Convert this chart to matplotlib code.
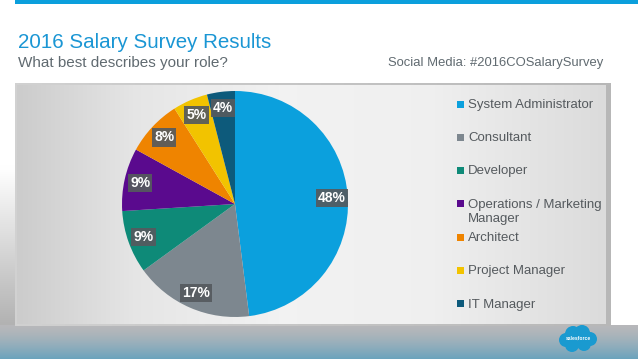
import numpy as np
import matplotlib.pyplot as plt
from matplotlib.patches import Rectangle, Circle

plt.rcParams['font.family'] = ['Liberation Sans', 'DejaVu Sans']

# data
roles = ['System Administrator', 'Consultant', 'Developer',
         'Operations / Marketing\nManager', 'Architect', 'Project Manager', 'IT Manager']
shares = [48, 17, 9, 9, 8, 5, 4]
colors = ['#0ba0dd', '#7d878f', '#0e8a78', '#5a0a8e', '#ef8400', '#f2c300', '#0d5a7b']

title = '2016 Salary Survey Results'
subtitle = 'What best describes your role?'
social = 'Social Media: #2016COSalarySurvey'

W, H = 638, 359
fig = plt.figure(figsize=(W / 100, H / 100), dpi=100)
fig.patch.set_facecolor('white')

# background layer in pixel coords
bg = fig.add_axes([0, 0, 1, 1], zorder=0)
bg.set_xlim(0, W)
bg.set_ylim(H, 0)
bg.axis('off')

# bottom band gradient
ys = np.linspace(0, 1, 60)[:, None]
top_c = np.array([0.72, 0.72, 0.73])
bot_c = np.array([0.42, 0.64, 0.74])
band = top_c + (bot_c - top_c) * ys ** 1.4
band = np.repeat(band[:, None, :], 2, axis=1)
bg.imshow(band, extent=(0, W, H, 325), aspect='auto', interpolation='bilinear', zorder=0)

# left strip gradient (white -> grey)
ys2 = np.linspace(0, 1, 60)[:, None]
strip = 1.0 - 0.30 * np.clip((ys2 - 0.35) / 0.65, 0, 1)
strip = np.repeat(np.repeat(strip[:, :, None], 3, axis=2), 2, axis=1)
bg.imshow(strip, extent=(0, 15, 325, 82), aspect='auto', interpolation='bilinear', zorder=0)

# panel frame
xs = np.linspace(0, 1, 200)
frame = 0.82 - 0.10 * xs
frame = np.repeat(np.repeat(frame[None, :, None], 3, axis=2), 2, axis=0)
bg.imshow(frame, extent=(15, 611, 326, 83), aspect='auto', interpolation='bilinear', zorder=1)

# panel inner gradient
prof_x = [0.0, 0.2, 0.45, 0.7, 0.85, 1.0]
prof_v = [0.80, 0.90, 0.95, 0.94, 0.90, 0.86]
inner = np.interp(xs, prof_x, prof_v)
inner = np.repeat(np.repeat(inner[None, :, None], 3, axis=2), 2, axis=0)
bg.imshow(inner, extent=(17, 606, 324, 85), aspect='auto', interpolation='bilinear', zorder=2)

# top blue bar
bg.add_patch(Rectangle((15, 0), W - 15, 4, color='#0b9fdc', lw=0, zorder=3))

# salesforce cloud
for cx, cy, r in [(566, 340, 7), (573, 334, 8), (582, 333, 8), (590, 339, 7),
                  (584, 344, 7), (572, 345, 7)]:
    bg.add_patch(Circle((cx, cy), r, color='#1a9ad0', lw=0, zorder=3))
bg.text(578, 339, 'salesforce', color='white', fontsize=3.6, fontweight='bold',
        ha='center', va='center', zorder=4)

# titles
fig.text(18 / W, 1 - 43 / H, title, color='#1a96d4', fontsize=14.8, va='center', ha='left')
fig.text(18 / W, 1 - 63 / H, subtitle, color='#606a70', fontsize=11, va='center', ha='left')
fig.text(603 / W, 1 - 63 / H, social, color='#606a70', fontsize=9.4, va='center', ha='right')

# pie
cx, cy, rad = 235, 204, 113
ax = fig.add_axes([(cx - rad) / W, (H - cy - rad) / H, 2 * rad / W, 2 * rad / H], zorder=2)
ax.set_facecolor('none')
wedges, texts, autotexts = ax.pie(
    shares, colors=colors, startangle=90, counterclock=False,
    autopct='%d%%', pctdistance=0.86, radius=1,
    wedgeprops=dict(linewidth=0),
    textprops=dict(color='white', fontsize=10, fontweight='bold'))
for t in autotexts:
    t.set_bbox(dict(boxstyle='square,pad=0.15', fc='#555a5e', ec='none', alpha=0.92))
ax.set_xlim(-1, 1)
ax.set_ylim(-1, 1)
ax.set_aspect('equal')
ax.axis('off')

# legend drawn by hand
leg_y0, leg_dy, line_h = 104, 33.3, 14
for i, (lab, col) in enumerate(zip(roles, colors)):
    y = leg_y0 + i * leg_dy
    bg.add_patch(Rectangle((457, y - 3.5), 7, 7, color=col, lw=0, zorder=4))
    for j, line in enumerate(lab.split('\n')):
        bg.text(468, y + 3.8 + j * line_h, line, color='#555a5e', fontsize=9.5,
                ha='left', va='baseline', zorder=4)

fig.savefig('out.png', dpi=100)
